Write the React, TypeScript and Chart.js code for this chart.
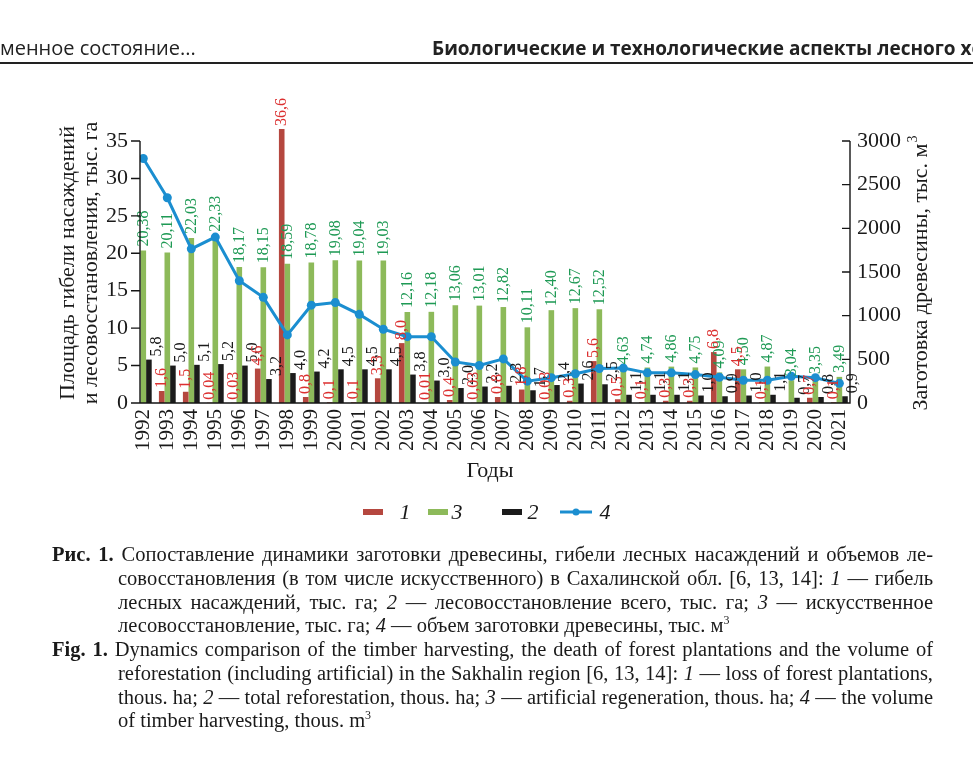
import React, { useEffect, useRef } from "react";
import { Chart, registerables } from "chart.js";

Chart.register(...registerables);

const years = [1992, 1993, 1994, 1995, 1996, 1997, 1998, 1999, 2000, 2001, 2002, 2003, 2004, 2005, 2006, 2007, 2008, 2009, 2010, 2011, 2012, 2013, 2014, 2015, 2016, 2017, 2018, 2019, 2020, 2021];
// 1 — loss of forest plantations, thous. ha
const loss = [null, 1.6, 1.5, 0.04, 0.03, 4.6, 36.6, 0.8, 0.1, 0.1, 3.3, 8.0, 0.01, 0.4, 0.03, 0.8, 1.8, 0.03, 0.3, 5.6, 0.5, 0.1, 0.3, 0.3, 6.8, 4.5, 0.1, null, 0.7, 0.1];
// 3 — artificial reforestation, thous. ha
const artificial = [20.38, 20.11, 22.03, 22.33, 18.17, 18.15, 18.59, 18.78, 19.08, 19.04, 19.03, 12.16, 12.18, 13.06, 13.01, 12.82, 10.11, 12.4, 12.67, 12.52, 4.63, 4.74, 4.86, 4.75, 4.09, 4.5, 4.87, 3.04, 3.35, 3.49];
// 2 — total reforestation, thous. ha
const total = [5.8, 5.0, 5.1, 5.2, 5.0, 3.2, 4.0, 4.2, 4.5, 4.5, 4.5, 3.8, 3.0, 2.0, 2.2, 2.3, 1.7, 2.4, 2.6, 2.5, 1.1, 1.1, 1.1, 1.0, 0.9, 1.0, 1.1, 0.7, 0.8, 0.9];
// 4 — timber harvesting, thous. m3
const harvest = [2800, 2350, 1765, 1900, 1400, 1210, 780, 1120, 1150, 1015, 845, 760, 760, 470, 430, 505, 250, 290, 335, 395, 400, 345, 345, 325, 295, 260, 260, 305, 290, 225];

const leftTicks = [0, 5, 10, 15, 20, 25, 30, 35];
const rightTicks = [0, 500, 1000, 1500, 2000, 2500, 3000];

const leftTitle = ["Площадь гибели насаждений", "и лесовосстановления, тыс. га"];
const rightTitle = "Заготовка древесины, тыс. м";
const xTitle = "Годы";
const legendItems = [
  { label: "1", color: "#b5473f", kind: "bar" },
  { label: "3", color: "#8dba5a", kind: "bar" },
  { label: "2", color: "#1b1b1b", kind: "bar" },
  { label: "4", color: "#1b8ed0", kind: "line" },
];

const RED = "#b5473f";
const GREEN = "#8dba5a";
const BLACK = "#1b1b1b";
const BLUE = "#1b8ed0";
const RED_TEXT = "#dc3030";
const GREEN_TEXT = "#1f9a55";
const SERIF = '"Liberation Serif", "DejaVu Serif", serif';

const fmtLoss = (v: number) => v.toFixed(v < 0.1 ? 2 : 1).replace(".", ",");
const fmt2 = (v: number) => v.toFixed(2).replace(".", ",");
const fmt1 = (v: number) => v.toFixed(1).replace(".", ",");

function vText(ctx: CanvasRenderingContext2D, text: string, x: number, y: number, align: CanvasTextAlign) {
  ctx.save();
  ctx.translate(x, y);
  ctx.rotate(-Math.PI / 2);
  ctx.textAlign = align;
  ctx.textBaseline = "middle";
  ctx.fillText(text, 0, 0);
  ctx.restore();
}

const drawPlugin = {
  id: "customDraw",
  afterDraw(chart: any) {
    const ctx: CanvasRenderingContext2D = chart.ctx;
    const area = chart.chartArea;
    const xs = chart.scales.x;
    const ys = chart.scales.y;
    const y2 = chart.scales.y2;
    ctx.save();

    // data labels
    ctx.font = `16px ${SERIF}`;
    const metaR = chart.getDatasetMeta(0);
    const metaG = chart.getDatasetMeta(1);
    const metaB = chart.getDatasetMeta(2);
    ctx.fillStyle = GREEN_TEXT;
    artificial.forEach((v, i) => {
      const b = metaG.data[i];
      vText(ctx, fmt2(v), b.x, b.y - 4, "left");
    });
    ctx.fillStyle = BLACK;
    total.forEach((v, i) => {
      const b = metaB.data[i];
      vText(ctx, fmt1(v), b.x + 8, b.y - 3, "left");
    });
    ctx.fillStyle = RED_TEXT;
    loss.forEach((v, i) => {
      if (v === null) return;
      const b = metaR.data[i];
      vText(ctx, fmtLoss(v), b.x, b.y - 3, "left");
    });

    // axes
    ctx.strokeStyle = "#151515";
    ctx.lineWidth = 1.4;
    ctx.beginPath();
    ctx.moveTo(area.left, area.top);
    ctx.lineTo(area.left, area.bottom);
    ctx.lineTo(area.right, area.bottom);
    ctx.lineTo(area.right, area.top);
    leftTicks.forEach((v) => {
      const py = ys.getPixelForValue(v);
      ctx.moveTo(area.left - 9, py);
      ctx.lineTo(area.left, py);
    });
    rightTicks.forEach((v) => {
      const py = y2.getPixelForValue(v);
      ctx.moveTo(area.right - 8, py);
      ctx.lineTo(area.right, py);
    });
    ctx.stroke();

    ctx.fillStyle = "#1a1a1a";
    ctx.font = `22px ${SERIF}`;
    ctx.textBaseline = "middle";
    ctx.textAlign = "right";
    leftTicks.forEach((v) => ctx.fillText(String(v), area.left - 12, ys.getPixelForValue(v)));
    ctx.textAlign = "left";
    rightTicks.forEach((v) => ctx.fillText(String(v), area.right + 7, y2.getPixelForValue(v)));

    // year labels
    ctx.font = `21px ${SERIF}`;
    years.forEach((yr) => vText(ctx, String(yr), xs.getPixelForValue(yr), area.bottom + 6, "right"));

    // titles
    ctx.font = `22px ${SERIF}`;
    vText(ctx, leftTitle[0], 68, 263, "center");
    vText(ctx, leftTitle[1], 91, 263, "center");
    const w = ctx.measureText(rightTitle).width;
    const startY = 273 + (w + 8) / 2;
    vText(ctx, rightTitle, 921, startY, "left");
    ctx.font = `14px ${SERIF}`;
    vText(ctx, "3", 913, startY - w - 1, "left");

    ctx.font = `22px ${SERIF}`;
    ctx.textAlign = "center";
    ctx.textBaseline = "middle";
    ctx.fillText(xTitle, 490, 471);

    // legend
    const lx = [363, 428, 502, 560];
    const tx = [405, 457, 533, 605];
    legendItems.forEach((it, i) => {
      if (it.kind === "bar") {
        ctx.fillStyle = it.color;
        ctx.fillRect(lx[i], 509, 20, 6);
      } else {
        ctx.strokeStyle = it.color;
        ctx.lineWidth = 3;
        ctx.beginPath();
        ctx.moveTo(lx[i], 512);
        ctx.lineTo(lx[i] + 32, 512);
        ctx.stroke();
        ctx.fillStyle = it.color;
        ctx.beginPath();
        ctx.arc(lx[i] + 16, 512, 3.5, 0, Math.PI * 2);
        ctx.fill();
      }
      ctx.fillStyle = "#1a1a1a";
      ctx.font = `italic 22px ${SERIF}`;
      ctx.textAlign = "center";
      ctx.fillText(it.label, tx[i], 513);
    });

    ctx.restore();
  },
};

const capFont: React.CSSProperties = {
  position: "absolute",
  fontFamily: '"Liberation Serif", "Times New Roman", serif',
  fontSize: 20.5,
  wordSpacing: -2,
  lineHeight: "24px",
  color: "#1a1a1a",
  whiteSpace: "normal",
};

const supStyle: React.CSSProperties = { fontSize: 12, lineHeight: 0, verticalAlign: "baseline", position: "relative", top: -8 };

function CapLine({ top, left, just, children }: { top: number; left: number; just: boolean; children: React.ReactNode }) {
  return (
    <div
      style={{
        ...capFont,
        top,
        left,
        width: 933 - left,
        textAlign: just ? "justify" : "left",
        textAlignLast: just ? "justify" : "left",
        wordSpacing: just ? -2 : 0,
      }}
    >
      {children}
    </div>
  );
}

export default function App() {
  const ref = useRef<HTMLCanvasElement>(null);
  useEffect(() => {
    const toXY = (arr: (number | null)[]) => years.map((yr, i) => ({ x: yr, y: arr[i] }));
    const chart = new Chart(ref.current as HTMLCanvasElement, {
      type: "bar",
      data: {
        datasets: [
          { type: "bar", label: "1", data: toXY(loss) as any, backgroundColor: RED, yAxisID: "y", barPercentage: 1, categoryPercentage: 0.7, clip: false as any, order: 1 },
          { type: "bar", label: "3", data: toXY(artificial) as any, backgroundColor: GREEN, yAxisID: "y", barPercentage: 1, categoryPercentage: 0.7, clip: false as any, order: 1 },
          { type: "bar", label: "2", data: toXY(total) as any, backgroundColor: BLACK, yAxisID: "y", barPercentage: 1, categoryPercentage: 0.7, clip: false as any, order: 1 },
          {
            type: "line",
            label: "4",
            data: toXY(harvest) as any,
            yAxisID: "y2",
            borderColor: BLUE,
            backgroundColor: BLUE,
            borderWidth: 3,
            pointRadius: 4.5,
            pointBorderWidth: 0,
            pointBackgroundColor: BLUE,
            tension: 0,
            order: 0,
          } as any,
        ],
      },
      options: {
        responsive: false,
        devicePixelRatio: 1,
        animation: false,
        layout: { padding: { left: 140, right: 123, top: 141, bottom: 355 } },
        plugins: { legend: { display: false }, tooltip: { enabled: false } },
        scales: {
          x: { type: "linear", min: 1991.8625, max: 2021.4425, offset: false, display: false, grid: { offset: false }, ticks: { stepSize: 1, includeBounds: false } } as any,
          y: { type: "linear", min: 0, max: 35, display: false },
          y2: { type: "linear", min: 0, max: 3000, display: false, position: "right" },
        },
      },
      plugins: [drawPlugin],
    });
    return () => chart.destroy();
  }, []);

  const headFont = '"Open Sans", "Noto Sans", sans-serif';
  return (
    <div style={{ position: "fixed", left: 0, top: 0, width: 973, height: 758, background: "#fff", overflow: "hidden" }}>
      <canvas ref={ref} width={973} height={758} style={{ position: "absolute", left: 0, top: 0, width: 973, height: 758 }} />
      <div style={{ position: "absolute", left: 0, top: 34, fontFamily: headFont, fontSize: 20, color: "#222", whiteSpace: "nowrap" }}>
        менное состояние...
      </div>
      <div style={{ position: "absolute", left: 432, top: 35, fontFamily: headFont, fontSize: 19, fontWeight: 700, color: "#222", whiteSpace: "nowrap" }}>
        Биологические и технологические аспекты лесного хозяйства
      </div>
      <div style={{ position: "absolute", left: 0, top: 62, width: 973, height: 1.5, background: "#222" }} />

      <CapLine top={542} left={52} just>
        <b>Рис. 1.</b> Сопоставление динамики заготовки древесины, гибели лесных насаждений и объемов ле-
      </CapLine>
      <CapLine top={566} left={118} just>
        совосстановления (в том числе искусственного) в Сахалинской обл. [6, 13, 14]: <i>1</i> — гибель
      </CapLine>
      <CapLine top={589.5} left={118} just>
        лесных насаждений, тыс. га; <i>2</i> — лесовосстановление всего, тыс. га; <i>3</i> — искусственное
      </CapLine>
      <CapLine top={613} left={118} just={false}>
        лесовосстановление, тыс. га; <i>4</i> — объем заготовки древесины, тыс. м<sup style={supStyle}>3</sup>
      </CapLine>
      <CapLine top={637} left={52} just>
        <b>Fig. 1.</b> Dynamics comparison of the timber harvesting, the death of forest plantations and the volume of
      </CapLine>
      <CapLine top={661} left={118} just>
        reforestation (including artificial) in the Sakhalin region [6, 13, 14]: <i>1</i> — loss of forest plantations,
      </CapLine>
      <CapLine top={684.5} left={118} just>
        thous. ha; <i>2</i> — total reforestation, thous. ha; <i>3</i> — artificial regeneration, thous. ha; <i>4</i> — the volume
      </CapLine>
      <CapLine top={708} left={118} just={false}>
        of timber harvesting, thous. m<sup style={supStyle}>3</sup>
      </CapLine>
    </div>
  );
}
